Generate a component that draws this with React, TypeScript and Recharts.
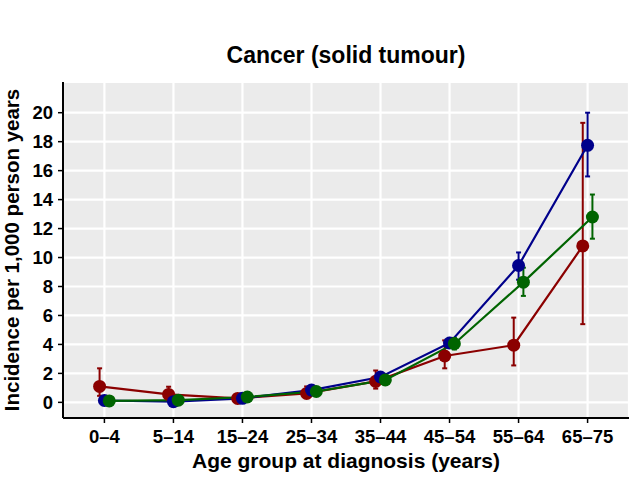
import React from 'react';
import { ComposedChart, Line, XAxis, YAxis, CartesianGrid, ErrorBar } from 'recharts';

// age groups at diagnosis
const ageGroups = ['0–4', '5–14', '15–24', '25–34', '35–44', '45–54', '55–64', '65–75'];
const yTicks = [0, 2, 4, 6, 8, 10, 12, 14, 16, 18, 20];

// incidence per 1,000 person years, with lower / upper confidence limits
const redValues = [1.1, 0.55, 0.27, 0.62, 1.45, 3.2, 3.95, 10.8];
const redLower = [0.45, 0.2, 0.12, 0.38, 0.95, 2.35, 2.55, 5.4];
const redUpper = [2.35, 1.08, 0.5, 1.1, 2.2, 4.28, 5.85, 19.3];

const blueValues = [0.13, 0.05, 0.28, 0.85, 1.75, 4.1, 9.45, 17.75];
const blueLower = [0.08, 0.02, 0.2, 0.7, 1.5, 3.75, 8.47, 15.6];
const blueUpper = [0.2, 0.09, 0.38, 1.0, 2.0, 4.45, 10.35, 20.0];

const greenValues = [0.1, 0.15, 0.37, 0.75, 1.55, 4.05, 8.3, 12.8];
const greenLower = [0.06, 0.1, 0.3, 0.65, 1.35, 3.65, 7.35, 11.3];
const greenUpper = [0.14, 0.2, 0.45, 0.88, 1.78, 4.45, 9.3, 14.35];

const dodge = 0.07;

function buildSeries(values: number[], lower: number[], upper: number[], offset: number) {
  return values.map((v, i) => ({
    x: i + offset,
    value: v,
    err: [v - lower[i], upper[i] - v],
  }));
}

const redData = buildSeries(redValues, redLower, redUpper, -dodge);
const blueData = buildSeries(blueValues, blueLower, blueUpper, 0);
const greenData = buildSeries(greenValues, greenLower, greenUpper, dodge);

const font = '"Liberation Sans", Arial, Helvetica, sans-serif';

const series = [
  { name: 'red', data: redData, color: '#8B0000' },
  { name: 'blue', data: blueData, color: '#00008B' },
  { name: 'green', data: greenData, color: '#006400' },
];

export default function App() {
  return (
    <div style={{ position: 'absolute', left: 0, top: 0, width: 629, height: 478, fontFamily: font }}>
      <div
        style={{
          position: 'absolute', left: 63, width: 566, top: 44, textAlign: 'center',
          fontSize: 23, lineHeight: '23px', fontWeight: 'bold', color: '#000',
        }}
      >
        Cancer (solid tumour)
      </div>
      <div
        style={{
          position: 'absolute', left: 63, width: 566, top: 450, textAlign: 'center',
          fontSize: 21, lineHeight: '21px', fontWeight: 'bold', color: '#000',
        }}
      >
        Age group at diagnosis (years)
      </div>
      <div
        style={{
          position: 'absolute', left: 12, top: 250, transform: 'translate(-50%, -50%) rotate(-90deg)',
          fontSize: 20.5, lineHeight: '20.5px', fontWeight: 'bold', color: '#000', whiteSpace: 'nowrap',
        }}
      >
        Incidence per 1,000 person years
      </div>
      <ComposedChart width={629} height={478} margin={{ top: 82, right: 0, bottom: 0, left: 0 }}>
        <CartesianGrid fill="#EBEBEB" stroke="#FFFFFF" strokeWidth={2.2} />
        <XAxis
          type="number"
          dataKey="x"
          domain={[-0.6, 7.6]}
          ticks={[0, 1, 2, 3, 4, 5, 6, 7]}
          interval={0}
          tickFormatter={(v: number) => ageGroups[Math.round(v)]}
          allowDataOverflow
          axisLine={{ stroke: '#000', strokeWidth: 2 }}
          tickLine={{ stroke: '#000', strokeWidth: 1.5 }}
          tickSize={5}
          tickMargin={7}
          tick={{ fill: '#000', fontSize: 18.5, fontWeight: 'bold', fontFamily: font }}
          height={60}
        />
        <YAxis
          type="number"
          domain={[-1.08, 22.12]}
          ticks={yTicks}
          interval={0}
          allowDataOverflow
          axisLine={{ stroke: '#000', strokeWidth: 2 }}
          tickLine={{ stroke: '#000', strokeWidth: 1.5 }}
          tickSize={5}
          tickMargin={5}
          tick={{ fill: '#000', fontSize: 18.5, fontWeight: 'bold', fontFamily: font }}
          width={63}
        />
        {series.map((s) => (
          <Line
            key={s.name}
            data={s.data}
            dataKey="value"
            type="linear"
            stroke={s.color}
            strokeWidth={2.2}
            dot={{ r: 6.5, fill: s.color, stroke: 'none' }}
            activeDot={false}
            isAnimationActive={false}
          >
            <ErrorBar dataKey="err" direction="y" width={2.5} stroke={s.color} strokeWidth={2} />
          </Line>
        ))}
      </ComposedChart>
    </div>
  );
}
